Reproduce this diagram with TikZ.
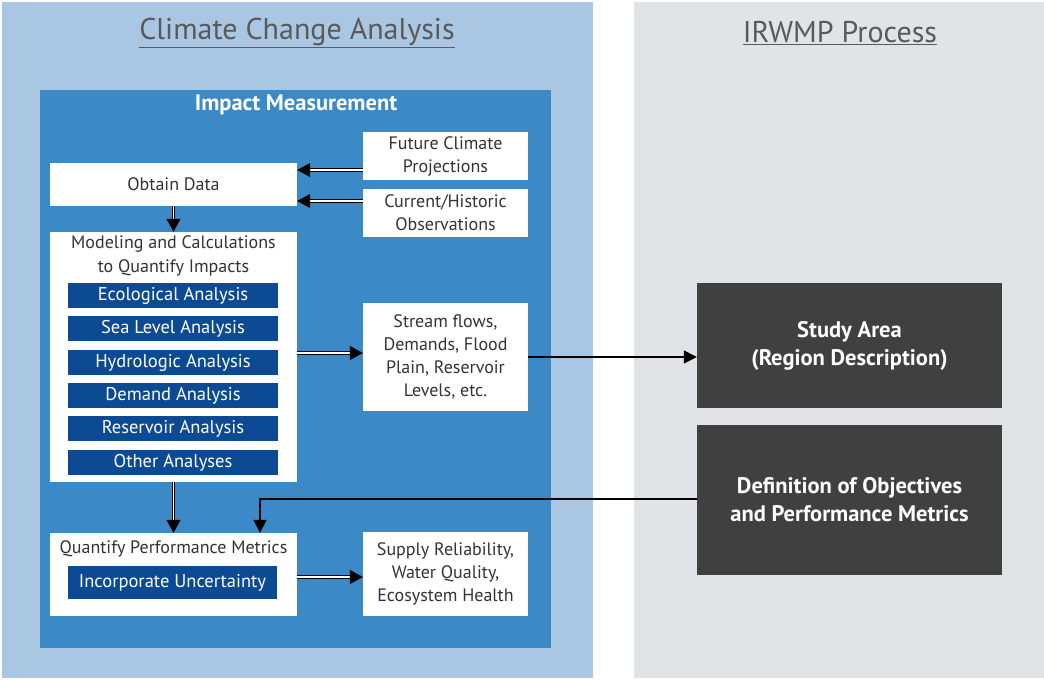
\documentclass[tikz,border=0pt]{standalone}
\usepackage{fontspec}
\setmainfont{PT Sans}
\usetikzlibrary{arrows.meta}
\definecolor{lightblue}{HTML}{A9C6E3}
\definecolor{midblue}{HTML}{3B89C6}
\definecolor{darkblue}{HTML}{0D4A94}
\definecolor{panelgray}{HTML}{E2E3E6}
\definecolor{boxgray}{HTML}{404040}
\definecolor{txtgray}{HTML}{333333}
\definecolor{titlegray}{HTML}{5A5A5A}
\tikzset{
  whitebox/.style={fill=white, inner sep=0pt, align=center, text=txtgray, font=\fontsize{18}{23}\selectfont},
  subbox/.style={fill=darkblue, inner sep=0pt, minimum width=210pt, minimum height=25pt, text=white, font=\fontsize{18.5}{20}\selectfont},
  graybox/.style={fill=boxgray, inner sep=0pt, minimum width=305pt, align=center, text=white, font=\fontsize{22.5}{28}\selectfont\bfseries},
  dbl/.style={draw=black, line width=1pt, double=white, double distance=1.4pt, -{Triangle[length=13pt,width=14pt]}},
  sgl/.style={draw=black, line width=1.5pt, -{Triangle[length=13pt,width=13pt]}},
  title/.style={text=titlegray, font=\fontsize{30}{32}\selectfont},
  lbl/.style={inner sep=0pt, align=center, text=txtgray, font=\fontsize{18}{24}\selectfont}
}
\begin{document}
\begin{tikzpicture}[x=1pt,y=-1pt]
\useasboundingbox (0,0) rectangle (1044,681);
\fill[white] (0,0) rectangle (1044,681);
% panels
\fill[lightblue] (2,2) rectangle (593,678);
\fill[panelgray] (634,2) rectangle (1044,678);
\node[title] (t1) at (297,33) {\underline{Climate Change Analysis}};
\node[title] (t2) at (840,33) {\underline{IRWMP Process}};
% impact measurement box
\fill[midblue] (40,90) rectangle (551,648);
\node[text=white, font=\fontsize{22.5}{24}\selectfont\bfseries] (im) at (296,105) {Impact Measurement};
% left column
\node[whitebox, minimum width=247pt, minimum height=43pt] (obtain) at (173.5,184.5) {Obtain Data};
\node[whitebox, minimum width=165pt, minimum height=48pt] (future) at (445.5,156) {Future Climate\\Projections};
\node[whitebox, minimum width=165pt, minimum height=48pt] (current) at (445.5,213) {Current/Historic\\Observations};
\node[whitebox, minimum width=247pt, minimum height=250pt] (model) at (173.5,357) {};
\node[lbl] (modellbl) at (173.5,256) {Modeling and Calculations\\to Quantify Impacts};
\node[subbox] (eco) at (173,295.5) {Ecological Analysis};
\node[subbox] (sea) at (173,328.5) {Sea Level Analysis};
\node[subbox] (hyd) at (173,362.5) {Hydrologic Analysis};
\node[subbox] (dem) at (173,395.5) {Demand Analysis};
\node[subbox] (res) at (173,428.5) {Reservoir Analysis};
\node[subbox] (oth) at (173,462.5) {Other Analyses};
\node[whitebox, minimum width=165pt, minimum height=108pt] (stream) at (445.5,357) {Stream flows,\\Demands, Flood\\Plain, Reservoir\\Levels, etc.};
\node[whitebox, minimum width=247pt, minimum height=83pt] (quant) at (173.5,574.5) {};
\node[lbl] (quantlbl) at (173.5,549) {Quantify Performance Metrics};
\node[subbox, minimum width=209pt, minimum height=33pt] (unc) at (172.5,582.5) {Incorporate Uncertainty};
\node[whitebox, minimum width=165pt, minimum height=84pt] (supply) at (445.5,574) {Supply Reliability,\\Water Quality,\\Ecosystem Health};
% right column
\node[graybox, minimum height=125pt] (study) at (849.5,345.5) {Study Area\\(Region Description)};
\node[graybox, minimum height=150pt] (defn) at (849.5,500) {Definition of Objectives\\and Performance Metrics};
% connectors
\draw[dbl] (future.west |- 0,170) -- (obtain.east |- 0,170);
\draw[dbl] (current.west |- 0,201) -- (obtain.east |- 0,201);
\draw[dbl] (obtain.south) -- (model.north);
\draw[dbl] (model.east |- 0,353) -- (stream.west |- 0,353);
\draw[dbl] (model.south) -- (quant.north);
\draw[dbl] (quant.east |- 0,577) -- (supply.west |- 0,577);
\draw[sgl] (stream.east |- 0,357) -- (study.west |- 0,357);
\coordinate (bend) at (260,499);
\draw[sgl] (defn.west |- bend) -- (bend) -- (bend |- quant.north);
\end{tikzpicture}
\end{document}
